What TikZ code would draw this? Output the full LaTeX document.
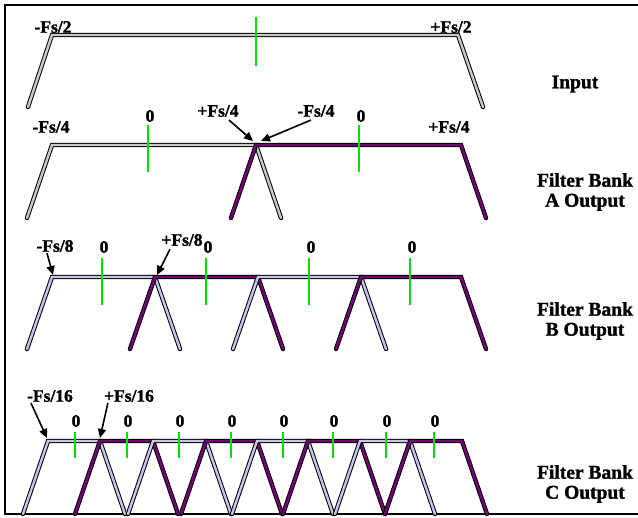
\documentclass[tikz,border=0pt]{standalone}
\usepackage{fontspec}
\setmainfont{Liberation Serif}[BoldFeatures={FakeBold=1.5}]
\usetikzlibrary{arrows.meta}
\definecolor{bandgray}{RGB}{200,200,200}
\definecolor{bandblue}{RGB}{196,196,236}
\definecolor{bandpurple}{RGB}{118,0,118}
\definecolor{zerogreen}{RGB}{0,225,0}
\tikzset{
  band/.style={draw=black, double=#1, line width=1pt, double distance=2.4pt, line join=miter, line cap=round},
  zero/.style={zerogreen, line width=1.2pt},
  lbl/.style={font=\bfseries\fontsize{17.5}{18}\selectfont, inner sep=0pt},
  side/.style={font=\bfseries\fontsize{19.5}{20}\selectfont, align=center, inner sep=0pt},
  pointer/.style={-{Triangle[length=9pt,width=8pt]}, line width=1.6pt}
}
\begin{document}
\begin{tikzpicture}[x=1pt,y=-1pt]
    \useasboundingbox (0,0) rectangle (638,518);
    \draw[line width=1.6pt] (638,5) -- (5,5) -- (5,514) -- (638,514); % frame

    % Input
    \draw[band=bandgray] (28,107) -- (52,35) -- (458,35) -- (483,107);
    \draw[zero] (256,17) -- (256,66);
    \node[lbl] (in-lo) at (53,27) {-Fs/2};
    \node[lbl] (in-hi) at (451,27) {+Fs/2};
    \node[side] (in-name) at (575,84) {Input};

    % Filter Bank A
    \foreach \a/\b/\c in {52/256/bandgray, 256/461/bandpurple} {
        \draw[band=\c] ({\a-25},218) -- (\a,145) -- (\b,145) -- ({\b+25},218);
    }
    \foreach \x/\n in {148/1, 359/2} {
        \node[lbl] (a0\n) at ({\x+2},116) {0};
        \draw[zero] (\x,125) -- (\x,172);
    }
    \node[lbl] (a-lo) at (51,127) {-Fs/4};
    \node[lbl] (a-hi) at (449,127) {+Fs/4};
    \node[lbl] (a-plus) at (218,111) {+Fs/4};
    \node[lbl] (a-minus) at (316,111) {-Fs/4};
    \coordinate (a-peak-l) at (253,141);
    \coordinate (a-peak-r) at (261,141);
    \draw[pointer] ([xshift=11pt,yshift=-3pt]a-plus.south) -- (a-peak-l);
    \draw[pointer] ([xshift=-5pt,yshift=-3pt]a-minus.south) -- (a-peak-r);
    \node[side] (a-name) at (585,192) {Filter Bank\\A Output};

    % Filter Bank B
    \foreach \a/\b/\c in {52/155/bandblue, 155/258/bandpurple, 258/361/bandblue, 361/461/bandpurple} {
        \draw[band=\c] ({\a-25},349) -- (\a,277) -- (\b,277) -- ({\b+25},349);
    }
    \foreach \x/\n in {102/1, 206/2, 309/3, 410/4} {
        \node[lbl] (b0\n) at ({\x+2},247) {0};
        \draw[zero] (\x,258) -- (\x,305);
    }
    \node[lbl] (b-lo) at (55,246) {-Fs/8};
    \node[lbl] (b-plus) at (182,240) {+Fs/8};
    \coordinate (b-left) at (53,275);
    \coordinate (b-peak) at (157,275);
    \draw[pointer] ([xshift=-8pt,yshift=-1pt]b-lo.south) -- (b-left);
    \draw[pointer] ([xshift=-12pt,yshift=-3pt]b-plus.south) -- (b-peak);
    \node[side] (b-name) at (585,321) {Filter Bank\\B Output};

    % Filter Bank C
    \foreach \a/\b/\c in {48/100/bandblue, 100/153/bandpurple, 153/206/bandblue, 206/257/bandpurple,
                          257/308/bandblue, 308/360/bandpurple, 360/410/bandblue, 410/462/bandpurple} {
        \draw[band=\c] ({\a-25},514) -- (\a,441) -- (\b,441) -- ({\b+25},514);
    }
    \foreach \x/\n in {75/1, 127/2, 179/3, 231/4, 283/5, 333/6, 386/7, 434/8} {
        \node[lbl] (c0\n) at ({\x+1},421) {0};
        \draw[zero] (\x,432) -- (\x,458);
    }
    \node[lbl] (c-lo) at (50,396) {-Fs/16};
    \node[lbl] (c-plus) at (129,396) {+Fs/16};
    \coordinate (c-left) at (47,438);
    \coordinate (c-peak) at (100,438);
    \draw[pointer] ([xshift=4pt,yshift=-1pt]c-lo.south west) -- (c-left);
    \draw[pointer] ([xshift=4pt,yshift=-1pt]c-plus.south west) -- (c-peak);
    \node[side] (c-name) at (585,484) {Filter Bank\\C Output};
\end{tikzpicture}
\end{document}
